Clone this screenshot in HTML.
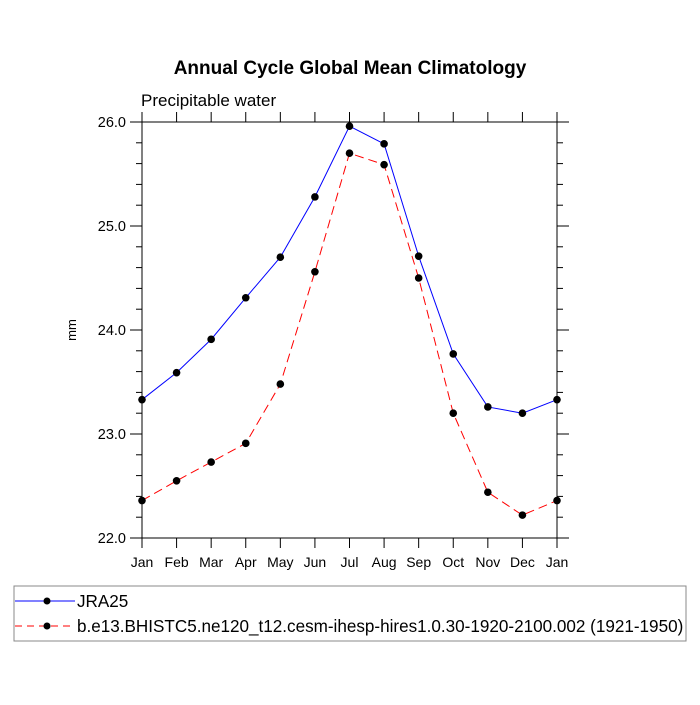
<!DOCTYPE html>
<html><head><meta charset="utf-8"><style>
body{margin:0;background:#fff}
svg text{font-family:"Liberation Sans",Arial,sans-serif}
</style></head><body>
<svg id="chart" width="700" height="700">
<text x="350" y="74" text-anchor="middle" font-size="19" font-weight="bold">Annual Cycle Global Mean Climatology</text>
<text x="141" y="106" font-size="17">Precipitable water</text>
<text x="76" y="330" font-size="13" text-anchor="middle" transform="rotate(-90 76 330)">mm</text>
<g id="axes"></g>
<g id="series"></g>
<rect x="14" y="586" width="672" height="55" fill="none" stroke="#888" stroke-width="1"/>
<g>
<line x1="15" y1="601" x2="75" y2="601" stroke="blue" stroke-width="1"/>
<circle cx="47" cy="601" r="3.5" fill="#000"/>
<text x="77" y="607" font-size="17.1">JRA25</text></g>
<g>
<line x1="15" y1="626" x2="75" y2="626" stroke="red" stroke-width="1" stroke-dasharray="7,5"/>
<circle cx="47" cy="626" r="3.5" fill="#000"/>
<text x="77" y="632" font-size="17.1">b.e13.BHISTC5.ne120_t12.cesm-ihesp-hires1.0.30-1920-2100.002 (1921-1950)</text></g>
</svg>
<script>
const months=["Jan","Feb","Mar","Apr","May","Jun","Jul","Aug","Sep","Oct","Nov","Dec","Jan"];
const jra25=[23.33,23.59,23.91,24.31,24.70,25.28,25.96,25.79,24.71,23.77,23.26,23.20,23.33];
const model=[22.36,22.55,22.73,22.91,23.48,24.56,25.70,25.59,24.50,23.20,22.44,22.22,22.36];
const yTicks=["22.0","23.0","24.0","25.0","26.0"];
const NS="http://www.w3.org/2000/svg";
const L=142,R=557,T=122,B=538,ymin=22,ymax=26;
const xs=i=>L+(R-L)*i/(months.length-1);
const ys=v=>B-(v-ymin)/(ymax-ymin)*(B-T);
function mk(tag,attrs,parent){const e=document.createElementNS(NS,tag);for(const k in attrs)e.setAttribute(k,attrs[k]);parent.appendChild(e);return e;}
const ax=document.getElementById('axes');
const fr=mk('rect',{x:L,y:T,width:R-L,height:B-T,fill:'none',stroke:'#000','stroke-width':1},ax);


months.forEach((m,i)=>{
  const x=xs(i);
  mk('line',{x1:x,y1:B,x2:x,y2:B+10,stroke:'#000'},ax);
  mk('line',{x1:x,y1:T,x2:x,y2:T-10,stroke:'#000'},ax);
  const t=mk('text',{x:x,y:B+29,'text-anchor':'middle','font-size':14},ax);
  t.textContent=m;
  
  
});
for(let v=ymin;v<=ymax+1e-9;v+=0.2){
  const y=ys(v);const major=Math.abs(v-Math.round(v))<1e-6;const len=major?12:6;
  mk('line',{x1:L,y1:y,x2:L-len,y2:y,stroke:'#000'},ax);
  mk('line',{x1:R,y1:y,x2:R+len,y2:y,stroke:'#000'},ax);
}
yTicks.forEach(s=>{
  const t=mk('text',{x:L-16,y:ys(parseFloat(s))+5,'text-anchor':'end','font-size':14.5},ax);
  t.textContent=s;
  
  
});
const sg=document.getElementById('series');
function draw(vals,color,dash,name){
  const p=mk('polyline',{points:vals.map((v,i)=>xs(i)+','+ys(v)).join(' '),fill:'none',stroke:color,'stroke-width':1},sg);
  if(dash)p.setAttribute('stroke-dasharray',dash);
  
  
  vals.forEach((v,i)=>{
    const c=mk('circle',{cx:xs(i),cy:ys(v),r:3.8,fill:'#000'},sg);
    
    
  });
}
draw(jra25,'blue',null,'jra25');
draw(model,'red','9,5','model');
</script>
</body></html>
